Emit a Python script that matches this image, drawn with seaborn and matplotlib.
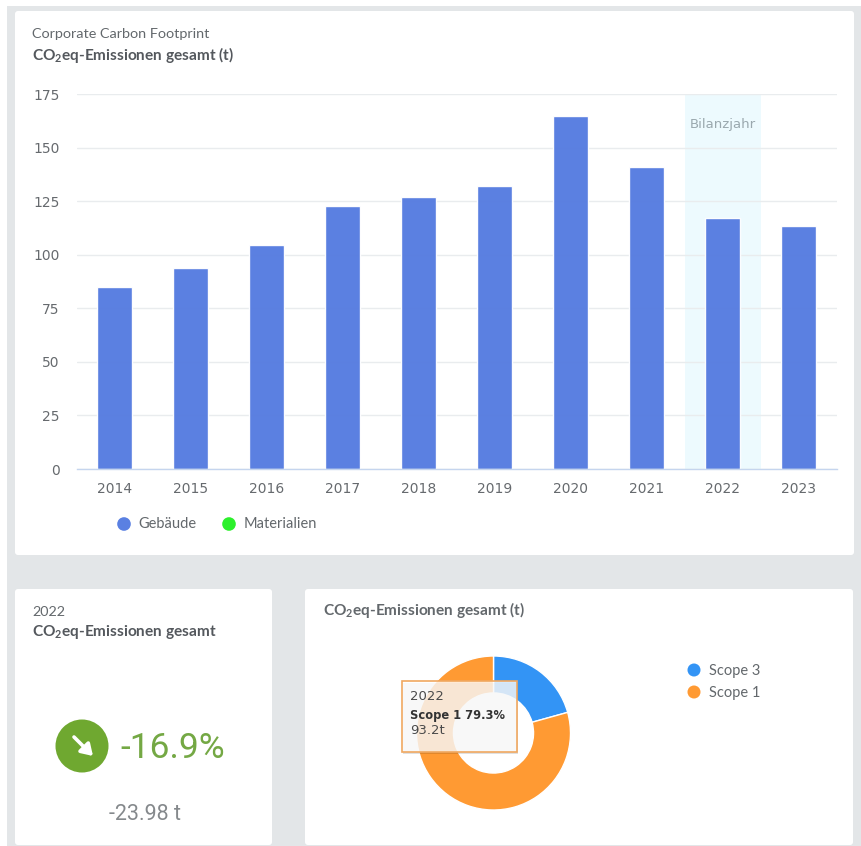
import matplotlib
matplotlib.use("Agg")
import matplotlib.pyplot as plt
from matplotlib.patches import Rectangle, FancyBboxPatch, Circle
import pandas as pd
import seaborn as sns

# Emissions per year (t)
years = ["2014", "2015", "2016", "2017", "2018", "2019", "2020", "2021", "2022", "2023"]
emissions = [84.8, 94.0, 104.3, 122.8, 126.8, 132.0, 164.6, 141.0, 117.0, 113.3]
y_ticks = [0, 25, 50, 75, 100, 125, 150, 175]
balance_year = "2022"

# Legend entries of the bar chart
bar_legend = ["Gebäude", "Materialien"]
bar_legend_colors = ["#5a80e2", "#2cf02c"]

# Scope split of the balance year (t)
scope_labels = ["Scope 3", "Scope 1"]
scope_values = [24.3, 93.2]
scope_colors = ["#3394f5", "#ff9a33"]

kpi_percent = "-16.9%"
kpi_absolute = "-23.98 t"

W, H = 861, 846
MAIN = "Lato"
TEXT = "#63686c"
DARK = "#54585d"

sns.set_theme(style="white")
plt.rcParams["font.family"] = [MAIN, "DejaVu Sans"]
plt.rcParams["mathtext.fontset"] = "custom"
plt.rcParams["mathtext.rm"] = MAIN
plt.rcParams["mathtext.bf"] = f"{MAIN}:bold"

fig = plt.figure(figsize=(W / 100, H / 100), dpi=100, facecolor="white")


def pixel_axes(zorder):
    """Full-figure axes whose data units are figure pixels, y pointing down."""
    a = fig.add_axes([0, 0, 1, 1], zorder=zorder)
    a.set_xlim(0, W)
    a.set_ylim(H, 0)
    a.axis("off")
    a.patch.set_alpha(0)
    return a


def box_axes(x0, y0, x1, y1, zorder=2):
    return fig.add_axes([x0 / W, (H - y1) / H, (x1 - x0) / W, (y1 - y0) / H], zorder=zorder)


# Dashboard background and cards
bg = pixel_axes(0)
bg.add_patch(Rectangle((7, 6), W - 7, H - 6, color="#e3e6e8", lw=0))
for x0, y0, x1, y1 in [(15, 11, 854, 555), (15, 589, 272, 845), (305, 589, 853, 845)]:
    bg.add_patch(FancyBboxPatch((x0 + 3, y0 + 3), x1 - x0 - 6, y1 - y0 - 6,
                                boxstyle="round,pad=3,rounding_size=3", fc="white", ec="none"))

# Card headers
bg.text(32, 34.5, "Corporate Carbon Footprint", fontsize=10.4, color=TEXT, va="center")
bg.text(32, 55, r"CO$_{\mathbf{2}}$eq-Emissionen gesamt (t)", fontsize=11.1,
        fontweight="bold", color=DARK, va="center")
bg.text(32, 611.5, "2022", fontsize=10.4, color=TEXT, va="center")
bg.text(32, 632, r"CO$_{\mathbf{2}}$eq-Emissionen gesamt", fontsize=11.1,
        fontweight="bold", color=DARK, va="center")
bg.text(323, 610, r"CO$_{\mathbf{2}}$eq-Emissionen gesamt (t)", fontsize=11.1,
        fontweight="bold", color=TEXT, va="center")

# Yearly emissions bars
ax = box_axes(76.5, 94, 836.5, 469)
ax.patch.set_alpha(0)
df = pd.DataFrame({"year": years, "emissions": emissions})
band = years.index(balance_year)
ax.axvspan(band - 0.5, band + 0.5, color="#edfafe", lw=0, zorder=0)
sns.barplot(data=df, x="year", y="emissions", color="#567ce0", saturation=1,
            width=0.47, alpha=0.97, ax=ax, zorder=2)
ax.set_xlim(-0.5, len(years) - 0.5)
ax.set_ylim(0, 175)
ax.set_yticks(y_ticks)
ax.set_xlabel("")
ax.set_ylabel("")
ax.grid(axis="y", color="#e9ecee", lw=1)
ax.grid(axis="x", visible=False)
ax.set_axisbelow(True)
for name in ["top", "left", "right"]:
    ax.spines[name].set_visible(False)
ax.spines["bottom"].set_color("#c5d5ee")
ax.spines["bottom"].set_linewidth(1)
ax.tick_params(axis="x", length=3, width=0.8, color="#d5e0f2", pad=6, labelsize=10,
               labelcolor="#666a6e")
ax.tick_params(axis="y", length=0, pad=12, labelsize=10, labelcolor="#666a6e")
for lab in ax.get_xticklabels() + ax.get_yticklabels():
    lab.set_fontfamily("DejaVu Sans")
ax.text(band, 160.6, "Bilanzjahr", ha="center", va="center", fontsize=9.5,
        color="#9aa8ae", family="DejaVu Sans")

# Bar chart legend
for cx, tx, label, col in zip([124, 229], [138, 244], bar_legend, bar_legend_colors):
    bg.add_patch(Circle((cx, 524), 6.8, fc=col, ec="none"))
    bg.text(tx, 524.5, label, fontsize=10.5, color=TEXT, va="center")

# KPI card
bg.add_patch(Circle((82, 746), 26.5, fc="#6fa830", ec="none"))
bg.annotate("", xy=(93, 756), xytext=(74, 737),
            arrowprops=dict(arrowstyle="-|>,head_width=0.35,head_length=0.55",
                            color="white", lw=2.6, shrinkA=0, shrinkB=0))
bg.text(120, 748, kpi_percent, fontsize=25.5, color="#74a844", va="center", family="Roboto")
bg.text(145, 815, kpi_absolute, fontsize=15.5, color="#85898c", va="center", ha="center",
        family="Roboto")

# Scope donut
pie_ax = box_axes(493.5 - 77, 733 - 77, 493.5 + 77, 733 + 77)
pie_ax.pie(scope_values, colors=scope_colors, startangle=90, counterclock=False, radius=1,
           wedgeprops=dict(width=0.48, edgecolor="white", linewidth=1))
pie_ax.set_xlim(-1, 1)
pie_ax.set_ylim(-1, 1)

for cy, label, col in zip([670, 692], scope_labels, scope_colors):
    bg.add_patch(Circle((694, cy), 6.5, fc=col, ec="none"))
    bg.text(709, cy + 0.5, label, fontsize=10.5, color=TEXT, va="center")

# Hover tooltip over the donut
top = pixel_axes(5)
top.add_patch(Rectangle((403, 683), 115, 71, fc="#000000", alpha=0.12, lw=0))
top.add_patch(Rectangle((402, 681), 115, 71, fc="white", alpha=0.8, ec="none"))
top.add_patch(Rectangle((402, 681), 115, 71, fc="none", ec="#f0a860", lw=1.2))
share = scope_values[1] / sum(scope_values) * 100
top.text(410, 697, "2022", fontsize=9.5, color="#4a4a4a", va="center", family="DejaVu Sans")
top.text(410, 715, f"Scope 1 {share:.1f}%", fontsize=8.3, fontweight="bold", color="#333333",
         va="center", family="DejaVu Sans")
top.text(410, 731, f"{scope_values[1]}t", fontsize=9.5, color="#4a4a4a", va="center",
         family="DejaVu Sans")

fig.savefig("out.png", dpi=100, facecolor="white")
